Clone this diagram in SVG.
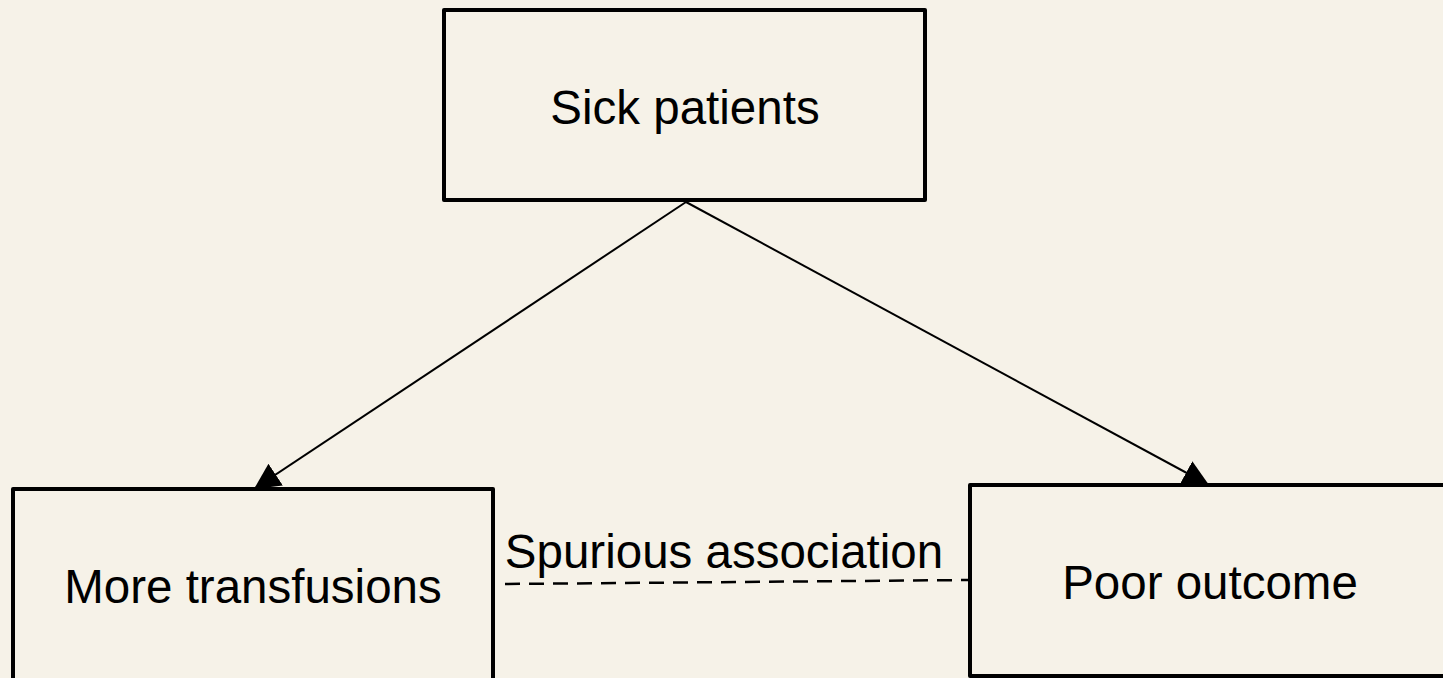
<svg xmlns="http://www.w3.org/2000/svg" width="1443" height="678" viewBox="0 0 1443 678">
  <style>
    .bg { fill: #f6f2e8; }
    .box { fill: #f6f2e8; stroke: #000; stroke-width: 4; stroke-linejoin: round; }
    .lbl { font-family: "Liberation Sans", Arial, sans-serif; font-size: 47.5px; fill: #000; }
    .edge { stroke: #000; stroke-width: 2; fill: none; }
    .dash { stroke: #000; stroke-width: 2.5; fill: none; stroke-dasharray: 15 9; }
  </style>
  <defs>
    <marker id="arrow" viewBox="0 0 10 10" refX="10" refY="5" markerWidth="26" markerHeight="26" markerUnits="userSpaceOnUse" orient="auto">
      <path d="M0,0 L10,5 L0,10 z" fill="#000"/>
    </marker>
  </defs>
  <rect class="bg" x="0" y="0" width="1443" height="678"/>
  <g id="connectors">
    <line class="edge" x1="686" y1="202" x2="254" y2="489" marker-end="url(#arrow)"/>
    <line class="edge" x1="686" y1="202" x2="1209" y2="485" marker-end="url(#arrow)"/>
    <line class="dash" x1="505" y1="584" x2="970" y2="580"/>
  </g>
  <g id="node-sick">
    <rect class="box" x="444" y="10" width="481" height="190"/>
    <text class="lbl" x="685" y="124" text-anchor="middle">Sick patients</text>
  </g>
  <g id="node-transfusions">
    <rect class="box" x="13" y="489" width="480" height="220"/>
    <text class="lbl" x="253" y="603" text-anchor="middle">More transfusions</text>
  </g>
  <g id="node-outcome">
    <rect class="box" x="970" y="485" width="500" height="191"/>
    <text class="lbl" x="1210" y="599" text-anchor="middle">Poor outcome</text>
  </g>
  <g id="label-spurious">
    <text class="lbl" x="724" y="568" text-anchor="middle">Spurious association</text>
  </g>
</svg>
